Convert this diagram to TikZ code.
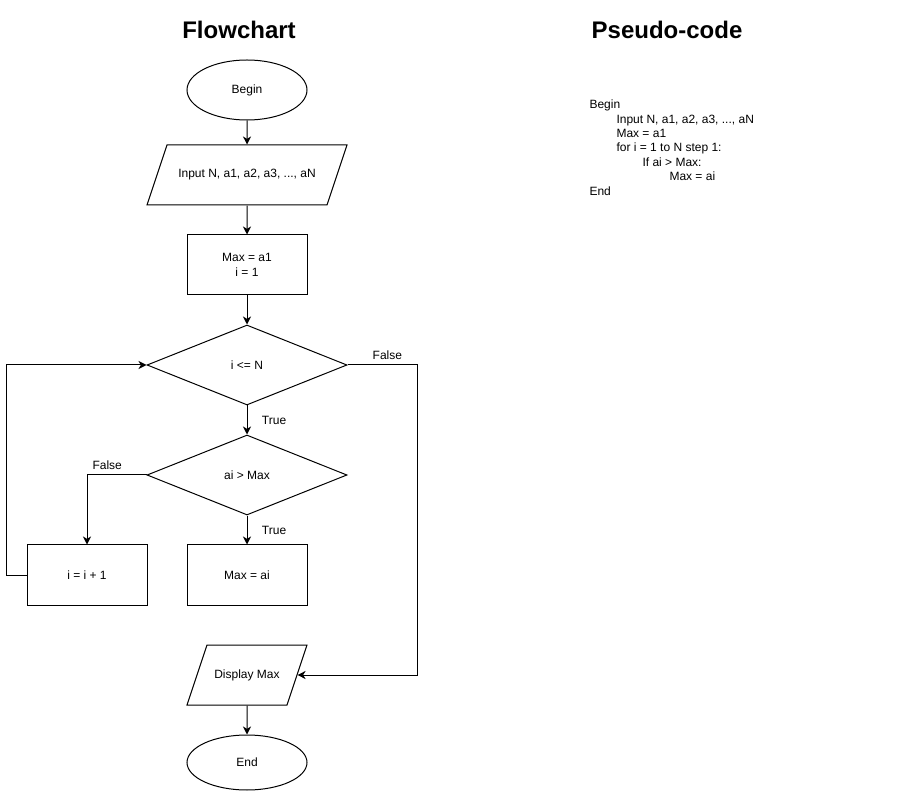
\documentclass[tikz,border=0pt]{standalone}
\usepackage{fontspec}
\setmainfont{Liberation Sans}
\usetikzlibrary{shapes.geometric,arrows.meta}

\tikzset{
    txt/.style={font=\fontsize{9}{10.8}\selectfont},
    heading/.style={font=\fontsize{18}{21.6}\selectfont\bfseries},
    term/.style={draw, ellipse, txt, minimum width=90pt, minimum height=45pt, inner sep=0pt},
    io/.style={draw, trapezium, trapezium left angle=71.57, trapezium right angle=108.43,
        trapezium stretches body=true, txt, text height=6.5pt, text depth=2pt,
        inner xsep=0pt, inner ysep=18.25pt, minimum height=45pt},
    proc/.style={draw, rectangle, txt, minimum width=90pt, minimum height=45pt, align=center},
    cond/.style={draw, diamond, txt, minimum width=150pt, minimum height=60pt, inner sep=0pt},
    lbl/.style={txt}
}

\begin{document}
\begin{tikzpicture}[x=0.75pt, y=-0.75pt, line width=0.75pt, >={Stealth[length=6pt,width=6pt,inset=1.8pt]}]

        \useasboundingbox (0,0) rectangle (918,791);

        % titles
        \node[heading] (fctitle) at (239,30) {Flowchart};
        \node[heading] (pctitle) at (667,30) {Pseudo-code};

        % flowchart blocks
        \node[term] (begin) at (247,90) {Begin};
        \node[io, minimum width=150pt] (input) at (247,175) {Input N, a1, a2, a3, ..., aN};
        \node[proc] (init) at (247,265) {Max = a1\\i = 1};
        \node[cond] (loop) at (247,365) {i <= N};
        \node[cond] (cmp) at (247,475) {ai > Max};
        \node[proc] (inc) at (87,575) {i = i + 1};
        \node[proc] (upd) at (247,575) {Max = ai};
        \node[io, minimum width=90pt] (out) at (247,675) {Display Max};
        \node[term, minimum height=41.25pt] (end) at (247,762.5) {End};

        % arrows
        \draw[->] (begin) -- (input);
        \draw[->] (input) -- (init);
        \draw[->] (init) -- (loop);
        \draw[->] (loop) -- node[lbl, right, xshift=7.5pt] {True} (cmp);
        \draw[->] (cmp) -- node[lbl, right, xshift=7.5pt] {True} (upd);
        \draw[->] (cmp.west) -| node[lbl, above, pos=0.33] {False} (inc.north);
        \draw[->] (inc.west) -- ++(-20,0) |- (loop.west); % back to the test
        \draw[->] (loop.east) -- node[lbl, above, pos=0.57] {False} ++(70,0) |- (out.east);
        \draw[->] (out) -- (end);

        % pseudo-code
        \node[txt, anchor=north west, align=left, inner sep=0pt] (code) at (589,99.5) {Begin\\
            \hspace*{20.25pt}Input N, a1, a2, a3, ..., aN\\
            \hspace*{20.25pt}Max = a1\\
            \hspace*{20.25pt}for i = 1 to N step 1:\\
            \hspace*{39.75pt}If ai > Max:\\
            \hspace*{60pt}Max = ai\\
            End};

    \end{tikzpicture}
\end{document}
